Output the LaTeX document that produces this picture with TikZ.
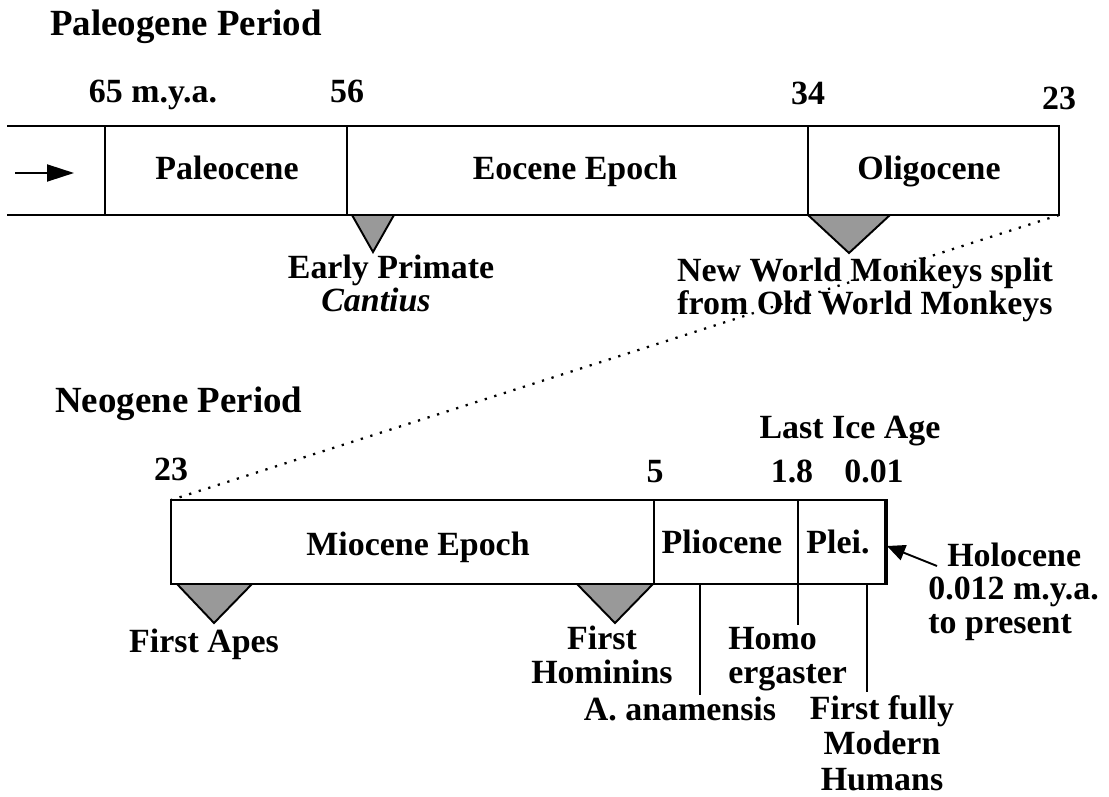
\documentclass[tikz,border=0pt]{standalone}
\usepackage{fontspec}
\setmainfont{Liberation Serif}
\usetikzlibrary{arrows.meta}
\definecolor{markgray}{gray}{0.6}

\begin{document}
\begin{tikzpicture}[x=0.02cm,y=-0.02cm,
	every node/.style={inner sep=0pt, font=\fontsize{19.3}{19}\selectfont\bfseries},
	title/.style={anchor=base west, font=\fontsize{21}{24}\selectfont\bfseries},
	lbl/.style={anchor=base, align=center},
	bar/.style={line width=1.1pt},
	marker/.style={draw, fill=markgray, line width=1.1pt},
	pin/.style={line width=1.1pt}]
	\useasboundingbox (0,0) rectangle (1109,797);

	% Paleogene
	\node[title] (paleogene) at (50,36) {Paleogene Period};
	\node[lbl] (t65) at (153,103) {65 m.y.a.};
	\node[lbl] (t56) at (347,103) {56};
	\node[lbl] (t34) at (808,105) {34};
	\node[lbl] (t23a) at (1059,110) {23};

	\draw[bar] (7,126) -- (1059,126) -- (1059,215) -- (7,215);
	\draw[bar] (105,126) -- (105,215);
	\draw[bar] (347,126) -- (347,215);
	\draw[bar] (808,126) -- (808,215);
	\draw[bar,-{Triangle[length=0.54cm,width=0.34cm]}] (15,173) -- (74,173);

	\node[lbl] (paleocene) at (227,180) {Paleocene};
	\node[lbl] (eocene) at (575,180) {Eocene Epoch};
	\node[lbl] (oligocene) at (929,180) {Oligocene};

	\filldraw[marker] (352,215) -- (394,215) -- (373,252) -- cycle;
	\filldraw[marker] (808,215) -- (890,215) -- (849,253) -- cycle;

	% multi-line labels sit on their last line
	\node[lbl] (cantius) at (391,312) {Early Primate\\\textit{Cantius}\hspace*{0.6cm}};
	\node[lbl] (monkeys) at (865,315) {New World Monkeys split\\from Old World Monkeys};

	% Neogene
	\node[title] (neogene) at (55,412) {Neogene Period};
	\node[lbl] (iceage) at (850,438) {Last Ice Age};
	\node[lbl] (t23b) at (171,480) {23};
	\node[lbl] (t5) at (655,482) {5};
	\node[lbl] (t18) at (792,482) {1.8};
	\node[lbl] (t001) at (874,482) {0.01};

	\draw[bar] (171,500) rectangle (886,584);
	\draw[bar] (654,500) -- (654,584);
	\draw[bar] (798,500) -- (798,584);
	\draw[line width=2.4pt] (886,499) -- (886,585);

	\node[lbl] (miocene) at (418,555) {Miocene Epoch};
	\node[lbl] (pliocene) at (722,553) {Pliocene};
	\node[lbl] (plei) at (838,553) {Plei.};

	\filldraw[marker] (177,584) -- (252,584) -- (214,623) -- cycle;
	\filldraw[marker] (577,584) -- (653,584) -- (615,623) -- cycle;

	\node[lbl] (apes) at (204,652) {First Apes};
	\node[lbl] (hominins) at (602,683) {First\\Hominins};
	\node[anchor=base west, align=left] (ergaster) at (728,683) {Homo\\ergaster};
	\node[lbl] (anamensis) at (680,720) {A. anamensis};
	\node[lbl, font=\fontsize{19.3}{20}\selectfont\bfseries] (modern) at (882,790) {First fully\\Modern\\Humans};
	\node[anchor=base west, align=left] (holocene) at (928,633) {\hspace*{0.38cm}Holocene\\0.012 m.y.a.\\to present};

	\coordinate (anam) at (700,584);
	\coordinate (erg) at (798,584);
	\coordinate (mod) at (867,584);
	\coordinate (holo) at (887,546);
	\draw[pin] (anam) -- (700,695);
	\draw[pin] (erg) -- (798,625);
	\draw[pin] (mod) -- (867,692);
	\draw[bar,-{Triangle[length=0.36cm,width=0.32cm]}] (937,566) -- (holo);

	% zoom line
	\draw[line width=1.3pt, dash pattern=on 1.3pt off 4.4pt] (1059,215) -- (171,500);
\end{tikzpicture}
\end{document}
